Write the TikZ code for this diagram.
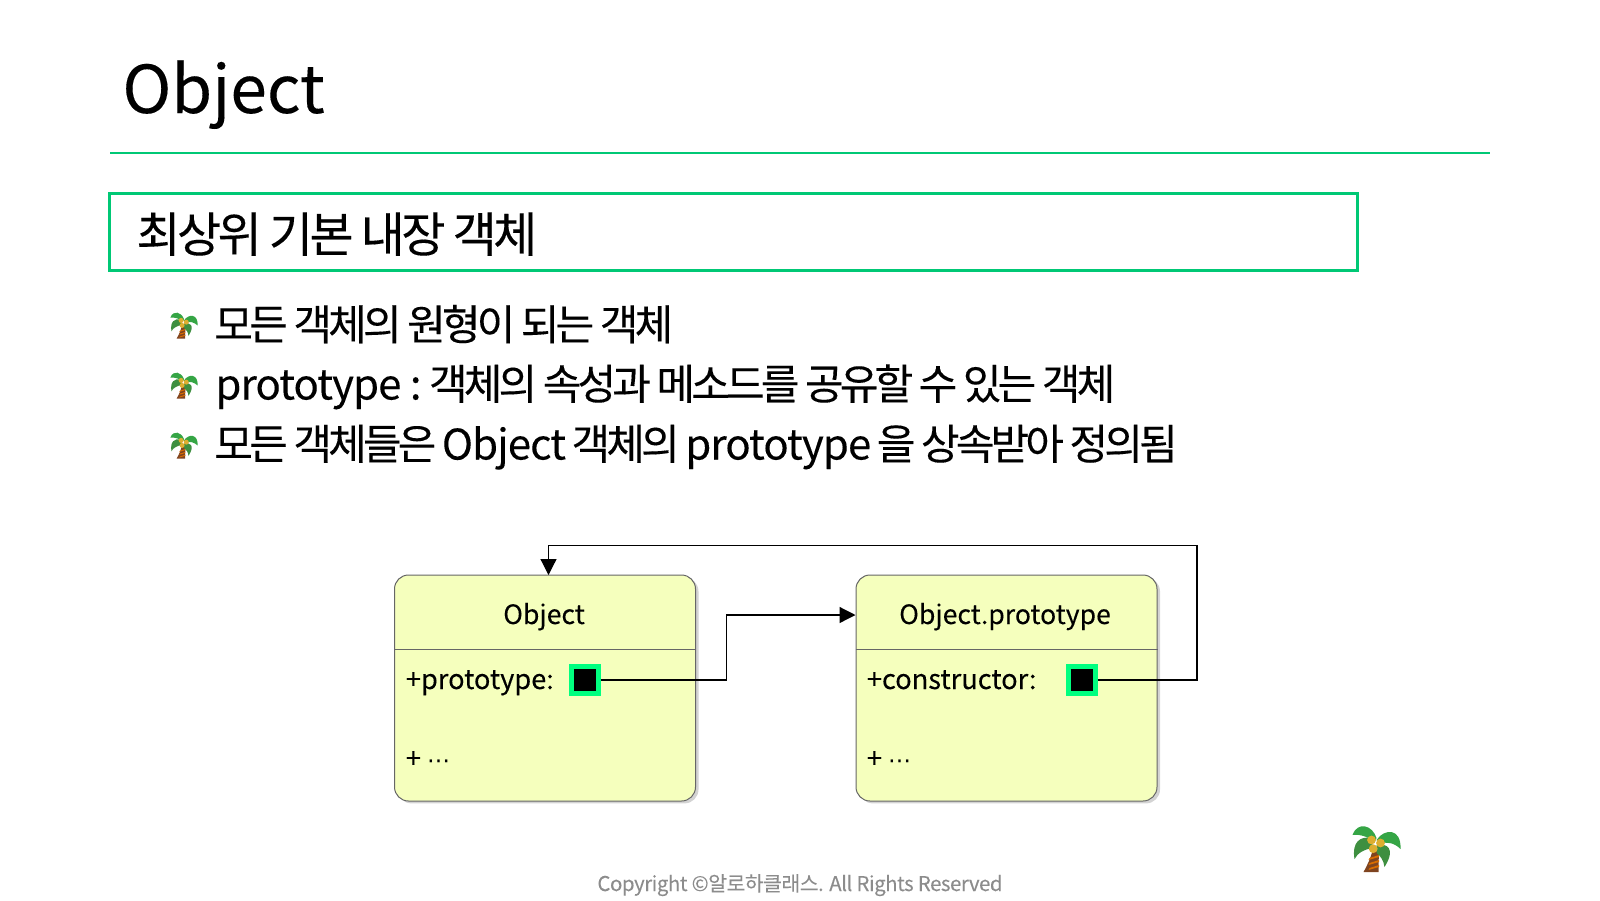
\documentclass[tikz,border=0pt]{standalone}
\usepackage{fontspec}
\usepackage{xcolor}
\usetikzlibrary{positioning,arrows.meta,shadows}
\setmainfont{Noto Sans CJK KR}[FakeBold=0.12]
\newfontfamily\tightfont{Noto Sans CJK KR}[LetterSpace=-9.2,FakeBold=0.2]
\newfontfamily\headfont{Noto Sans CJK KR}[LetterSpace=-7.5,FakeBold=0.2]
\newfontfamily\latinfont{Noto Sans CJK KR}[LetterSpace=-2.2,FakeBold=0.12]
\newfontfamily\dotsfont{DejaVu Sans}
\newcommand{\lat}[1]{{\latinfont #1}}
\definecolor{rulegreen}{HTML}{00C875}
\definecolor{portgreen}{HTML}{00FF7F}
\definecolor{boxyellow}{HTML}{F5FFBD}
\definecolor{leafgreen}{HTML}{35A545}
\definecolor{leafdark}{HTML}{3E8F40}
\definecolor{trunkbrown}{HTML}{7F4420}
\definecolor{nutgold}{HTML}{DDAE30}
\tikzset{
  px/.style={font=\fontsize{#1}{#1}\selectfont},
  bullettext/.style={anchor=base west,inner sep=0pt,font=\tightfont\fontsize{21}{25}\selectfont},
  classbox/.style={draw=black!60,fill=boxyellow,rounded corners=7pt,line width=0.5pt,
    minimum width=150.5pt,minimum height=113pt,inner sep=0pt,
    drop shadow={shadow xshift=1.5pt,shadow yshift=-1.2pt,opacity=0.35}},
  classtext/.style={anchor=base west,inner sep=0pt,font=\fontsize{13.6}{16}\selectfont},
  portbox/.style={draw=portgreen,fill=black,line width=2.5pt,minimum size=13.5pt,inner sep=0pt},
  link/.style={draw=black,line width=0.6pt},
  palm/.pic={
    \fill[trunkbrown] (-4,3) .. controls (-6,10) and (-9,17) .. (-13,24) -- (2,24) .. controls (2,16) and (2,9) .. (3,3) -- cycle;
    \foreach \ya in {9,14,19}
      \fill[orange!85!black] (-7,\ya+1) -- (2.5,\ya-2) -- (2.5,\ya) -- (-8,\ya+3) -- cycle;
    \fill[leafdark] (-6,-10) .. controls (-16,-12) and (-25,-6) .. (-22,11) .. controls (-19,5) and (-12,1) .. (-3,0) -- cycle;
    \fill[leafdark] (0,-3) .. controls (10,-5) and (20,0) .. (8,19) .. controls (7,12) and (4,8) .. (0,5) -- cycle;
    \fill[leafgreen] (0,-10) .. controls (-4,-23) and (-19,-27) .. (-24,-13) .. controls (-16,-14) and (-8,-11) .. (-2,-6) -- cycle;
    \fill[leafgreen] (0,-8) .. controls (8,-20) and (25,-20) .. (24,1) .. controls (18,-5) and (10,-7) .. (3,-4) -- cycle;
    \foreach \xa/\ya in {-5/-8,4/-5,-3.3/0.7}
      \fill[nutgold] (\xa,\ya) circle (4.4);
  }
}
\begin{document}
\begin{tikzpicture}[x=0.5pt,y=-0.5pt]
  \useasboundingbox (0,0) rectangle (1600,900);
  % title
  \node[anchor=base west,inner sep=0pt,px=33] (title) at (122,113) {Object};
  \draw[rulegreen,line width=0.7pt] (110,153) coordinate (ruleleft) -- (1490,153) coordinate (ruleright);
  \node[draw=rulegreen,line width=1.75pt,minimum width=624pt,minimum height=38.5pt,inner sep=0pt] (headbox) at (733.5,232) {};
  \node[anchor=base west,inner sep=0pt,font=\headfont\fontsize{24}{28}\selectfont] (headtext) at (136,252) {최상위 기본 내장 객체};
  % bullets
  \node[bullettext] (lineone) at (214,340) {모든 객체의 원형이 되는 객체};
  \node[bullettext] (linetwo) at (215,399.5) {\lat{prototype :} 객체의 속성과 메소드를 공유할 수 있는 객체};
  \node[bullettext] (linethree) at (214,459.5) {모든 객체들은 \lat{Object} 객체의 \lat{prototype} 을 상속받아 정의됨};
  \foreach \ya in {325,385,445}
    \pic[scale=0.57] at (184,\ya) {palm};
  % classes
  \node[classbox] (objbox) at (545,688) {};
  \node[classbox] (protobox) at (1006.5,688) {};
  \draw[black!60,line width=0.5pt] (objbox.west |- 0,649.5) coordinate (objdiv) -- (objbox.east |- 0,649.5);
  \draw[black!60,line width=0.5pt] (protobox.west |- 0,649.5) coordinate (protodiv) -- (protobox.east |- 0,649.5);
  \node[anchor=base,inner sep=0pt,px=13.3] (objname) at (544,624) {Object};
  \node[anchor=base,inner sep=0pt,px=13.3] (protoname) at (1005,624) {Object.prototype};
  \node[classtext] (objfield) at (405.5,689) {+prototype:};
  \node[classtext] (protofield) at (866.5,689) {+constructor:};
  \node[classtext] (objrest) at (405.5,768) {+ {\dotsfont\fontsize{11.5}{14}\selectfont ⋯}};
  \node[classtext] (protorest) at (866.5,768) {+ {\dotsfont\fontsize{11.5}{14}\selectfont ⋯}};
  \node[portbox] (objport) at (584.5,680) {};
  \node[portbox] (protoport) at (1081.5,680) {};
  % links
  \draw[link,-{Triangle[length=8pt,width=8pt]}] (objport.east) -- (726.5,680) |- (protobox.west |- 0,615);
  \draw[link,-{Triangle[length=8pt,width=8pt]}] (protoport.east) -- (1197,680) |- (548.5,545.5) -- (548.5,575);
  % footer
  \node[anchor=base,inner sep=0pt,text=black!45,font=\latinfont\fontsize{10.2}{12}\selectfont] (footer) at (800,891) {Copyright ©알로하클래스. All Rights Reserved};
  \pic (bigpalm) at (1376.5,848) {palm};
\end{tikzpicture}
\end{document}
